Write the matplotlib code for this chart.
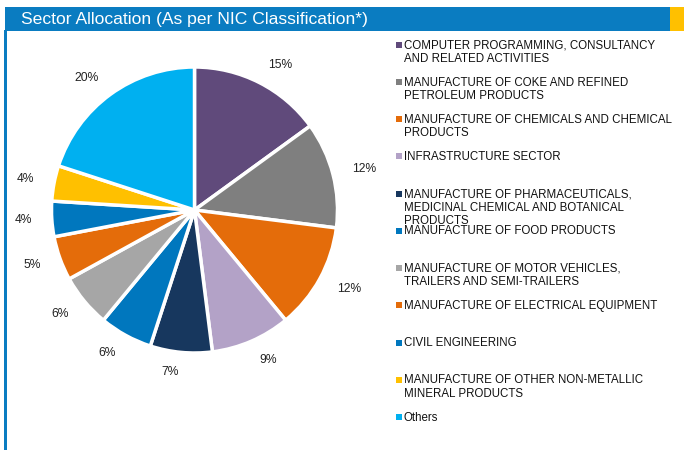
import matplotlib
matplotlib.use("Agg")
import matplotlib.pyplot as plt
from matplotlib.patches import Rectangle

categories = [
    "COMPUTER PROGRAMMING, CONSULTANCY\nAND RELATED ACTIVITIES",
    "MANUFACTURE OF COKE AND REFINED\nPETROLEUM PRODUCTS",
    "MANUFACTURE OF CHEMICALS AND CHEMICAL\nPRODUCTS",
    "INFRASTRUCTURE SECTOR",
    "MANUFACTURE OF PHARMACEUTICALS,\nMEDICINAL CHEMICAL AND BOTANICAL\nPRODUCTS",
    "MANUFACTURE OF FOOD PRODUCTS",
    "MANUFACTURE OF MOTOR VEHICLES,\nTRAILERS AND SEMI-TRAILERS",
    "MANUFACTURE OF ELECTRICAL EQUIPMENT",
    "CIVIL ENGINEERING",
    "MANUFACTURE OF OTHER NON-METALLIC\nMINERAL PRODUCTS",
    "Others",
]
values = [15, 12, 12, 9, 7, 6, 6, 5, 4, 4, 20]
value_labels = ["15%", "12%", "12%", "9%", "7%", "6%", "6%", "5%", "4%", "4%", "20%"]
colors = ["#604A7B", "#7F7F7F", "#E46C0A", "#B3A2C7", "#17375E", "#0077BE",
          "#A6A6A6", "#E46C0A", "#0077BE", "#FFC000", "#00B0F0"]

W, H = 684, 450
fig = plt.figure(figsize=(W / 100, H / 100), dpi=100)
fig.patch.set_facecolor("white")

def fx(x):
    return x / W

def fy(y):
    return 1 - y / H

# header
fig.patches.append(Rectangle((fx(5), fy(30.5)), fx(670) - fx(5), fy(7) - fy(30.5),
                             transform=fig.transFigure, facecolor="#0A7CC1", edgecolor="none"))
fig.patches.append(Rectangle((fx(670), fy(30.5)), fx(684) - fx(670), fy(7) - fy(30.5),
                             transform=fig.transFigure, facecolor="#FFC000", edgecolor="none"))
fig.patches.append(Rectangle((fx(4), fy(450)), fx(2.5), fy(30) - fy(450),
                             transform=fig.transFigure, facecolor="#0A7CC1", edgecolor="none"))
fig.text(fx(21), fy(24.3), "Sector Allocation (As per NIC Classification*)", color="white",
         fontsize=12.6, family="Liberation Sans", va="baseline", ha="left")

# pie
R = 143
cx, cy = 194.5, 210
half = 1.25 * R
ax = fig.add_axes([fx(cx - half), fy(cy + half), 2 * half / W, 2 * half / H])
ax.pie(values, colors=colors, startangle=90, counterclock=False,
       labels=value_labels, labeldistance=1.14,
       wedgeprops=dict(edgecolor="white", linewidth=2.5),
       textprops=dict(fontsize=8.7, family="Liberation Sans", color="#222222"))
ax.set_xlim(-1.25, 1.25)
ax.set_ylim(-1.25, 1.25)
ax.set_aspect("equal")
ax.axis("off")

# legend
for i, (lab, col) in enumerate(zip(categories, colors)):
    yb = 48.3 + i * 37.24
    fig.patches.append(Rectangle((fx(395.5), fy(yb - 0.6)), fx(6), fy(yb - 6.6) - fy(yb - 0.6),
                                 transform=fig.transFigure, facecolor=col, edgecolor="none"))
    for k, line in enumerate(lab.split("\n")):
        fig.text(fx(404), fy(yb + k * 13.3), line, fontsize=8.3, family="Liberation Sans",
                 color="#111111", va="baseline", ha="left")

fig.savefig("out.png", dpi=100, facecolor="white")
